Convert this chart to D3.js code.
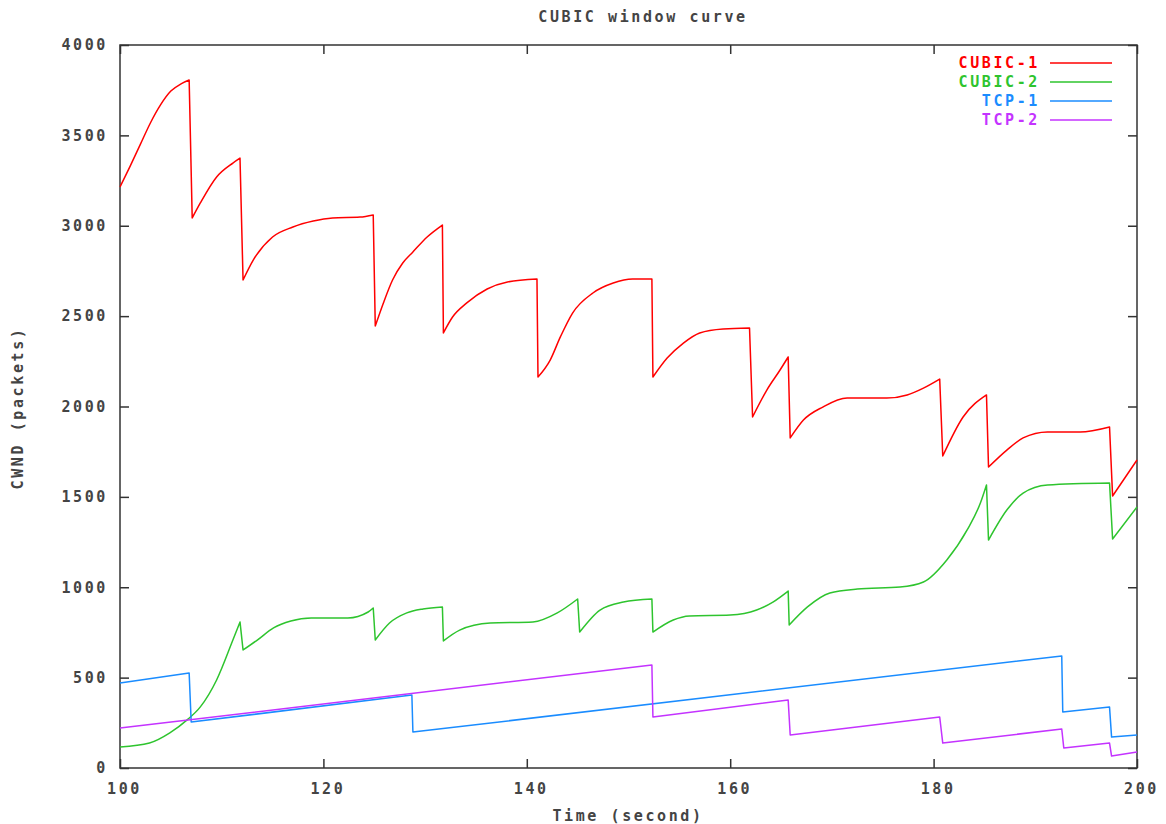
<!DOCTYPE html>
<html>
<head>
<meta charset="utf-8">
<script src="https://cdn.jsdelivr.net/npm/d3@7"></script>
<style>
  body { margin: 0; background: #fff; }
  svg text { font-family: "DejaVu Sans Mono", monospace; font-size: 15px; font-weight: bold; letter-spacing: 2.6px; fill: #444; }
</style>
</head>
<body>
<svg id="drawing_region"></svg>
<script>
// values
const seriesNames = ["CUBIC-1", "CUBIC-2", "TCP-1", "TCP-2"];
const seriesColors = ["#ff0000", "#2ec42e", "#1a8cff", "#c433ff"];
const seriesSmooth = [true, true, false, false];

const cubic1Time = [100, 101.0, 102.0, 103.0, 104.0, 105.0, 106.0, 106.8, 107.1, 107.9, 109.5, 111.1, 111.8, 112.1, 113.1, 115.0, 117.0, 119.0,
    120.9, 123.6, 124.9, 125.1, 125.9, 126.8, 127.8, 128.8, 130.2, 131.7, 131.8, 132.7, 134.1, 136.1, 138.1, 141.0, 141.1,
    142.3, 143.3, 144.5, 146.5, 148.5, 150.4, 152.3, 152.4, 153.8, 155.4, 157.0, 159.3, 161.9, 162.2, 163.6, 164.9, 165.7,
    165.9, 167.2, 169.1, 171.5, 175.4, 177.4, 179.0, 180.6, 180.9, 182.9, 185.2, 185.4, 187.2, 188.8, 191.2, 194.4, 197.3,
    197.6, 200];
const cubic1Cwnd = [3215, 3330, 3450, 3570, 3670, 3745, 3785, 3806, 3043, 3126, 3270, 3347, 3374, 2700, 2810, 2938, 2993, 3026,
    3043, 3048, 3060, 2445, 2573, 2700, 2794, 2855, 2938, 3004, 2407, 2495, 2573, 2650, 2689, 2705, 2163,
    2257, 2385, 2517, 2628, 2683, 2705, 2705, 2163, 2268, 2351, 2407, 2429, 2434, 1942, 2091, 2202, 2274,
    1826, 1925, 1997, 2047, 2047, 2064, 2102, 2152, 1726, 1942, 2064, 1665, 1759, 1826, 1859, 1859, 1887,
    1505, 1704];

const cubic2Time = [100, 102.9, 104.9, 106.6, 107.9, 109.5, 111.1, 111.8, 112.1, 113.5, 115.1, 116.8, 118.8, 122.4, 124.4,
    124.9, 125.1, 126.5, 128.2, 129.8, 131.7, 131.8, 133.4, 136.4, 140.6, 143.0, 145.0, 145.2, 147.2, 149.5,
    152.3, 152.4, 154.4, 156.0, 160.0, 162.6, 164.2, 165.7, 165.8, 167.6, 169.8, 172.5, 176.7, 179.0, 181.3,
    183.3, 184.6, 185.2, 185.4, 187.2, 188.8, 191.2, 197.3, 197.6, 200];
const cubic2Cwnd = [116, 138, 194, 266, 338, 487, 708, 808, 653, 708, 775, 813, 830, 830, 863,
    885, 708, 802, 858, 880, 891, 703, 763, 802, 808, 858, 935, 752, 874, 918,
    935, 752, 819, 841, 846, 874, 918, 979, 791, 891, 968, 990, 1001, 1029, 1151,
    1317, 1466, 1566, 1261, 1427, 1521, 1566, 1577, 1267, 1444];

const tcp1Time = [100, 106.8, 107.0, 128.7, 128.8, 192.6, 192.7, 197.3, 197.5, 200];
const tcp1Cwnd = [470, 525, 254, 404, 199, 620, 310, 337, 171, 182];

const tcp2Time = [100, 152.3, 152.4, 165.7, 165.9, 180.6, 180.9, 192.6, 192.8, 197.3, 197.5, 200];
const tcp2Cwnd = [221, 570, 282, 376, 183, 282, 138, 216, 111, 138, 66, 88];

const xTicks = [100, 120, 140, 160, 180, 200];
const yTicks = [0, 500, 1000, 1500, 2000, 2500, 3000, 3500, 4000];

const config = {
    width: 1166,
    height: 824,
    margin: {top: 45, right: 29, bottom: 56, left: 120}
};

const zip = (ts, ws) => ts.map((t, i) => ({t: t, w: ws[i]}));
const series = [
    zip(cubic1Time, cubic1Cwnd),
    zip(cubic2Time, cubic2Cwnd),
    zip(tcp1Time, tcp1Cwnd),
    zip(tcp2Time, tcp2Cwnd)
];

const svg = d3.select('#drawing_region')
    .attr('width', config.width)
    .attr('height', config.height);

const inner_width = config.width - config.margin.left - config.margin.right;
const inner_height = config.height - config.margin.top - config.margin.bottom;

const chart = svg.append('g')
    .attr('transform', `translate(${config.margin.left}, ${config.margin.top})`);

const xscale = d3.scaleLinear().domain([100, 200]).range([0, inner_width]);
const yscale = d3.scaleLinear().domain([0, 4000]).range([inner_height, 0]);

const tickLen = 9;
const axisColor = "#333";

// bottom and left axes with labels, top and right mirrors without
const xaxis = d3.axisBottom(xscale).tickValues(xTicks).tickFormat(d3.format("d"))
    .tickSizeInner(-tickLen).tickSizeOuter(0).tickPadding(15);
const yaxis = d3.axisLeft(yscale).tickValues(yTicks).tickFormat(d3.format("d"))
    .tickSizeInner(-tickLen).tickSizeOuter(0).tickPadding(12);
const xaxis_top = d3.axisTop(xscale).tickValues(xTicks).tickSizeInner(-tickLen).tickSizeOuter(0).tickFormat("");
const yaxis_right = d3.axisRight(yscale).tickValues(yTicks).tickSizeInner(-tickLen).tickSizeOuter(0).tickFormat("");

const styleAxis = g => {
    g.select('.domain').remove();
    g.selectAll('.tick line').attr('stroke', axisColor).attr('stroke-width', 1.5);
    g.selectAll('.tick text').attr('font-family', null).attr('font-size', null).attr('fill', null);
};

chart.append('g').attr('transform', `translate(0, ${inner_height})`).call(xaxis).call(styleAxis)
    .selectAll('.tick text').attr('dx', 4);
chart.append('g').call(yaxis).call(styleAxis);
chart.append('g').call(xaxis_top).call(styleAxis);
chart.append('g').attr('transform', `translate(${inner_width}, 0)`).call(yaxis_right).call(styleAxis);

chart.append('rect')
    .attr('width', inner_width)
    .attr('height', inner_height)
    .attr('fill', 'none')
    .attr('stroke', axisColor)
    .attr('stroke-width', 1.5);

const smoothLine = d3.line()
    .x(d => xscale(d.t))
    .y(d => yscale(d.w))
    .curve(d3.curveMonotoneX);

const straightLine = d3.line()
    .x(d => xscale(d.t))
    .y(d => yscale(d.w));

// split a series at its window drops so each growth phase is smoothed on its own,
// then join the pieces with straight drop segments
const seriesPath = (data, smooth) => {
    if (!smooth) return straightLine(data);
    const pieces = [[data[0]]];
    for (let i = 1; i < data.length; i++) {
        const prev = data[i - 1], cur = data[i];
        if (cur.t - prev.t < 0.45 && cur.w < prev.w) pieces.push([cur]);
        else pieces[pieces.length - 1].push(cur);
    }
    return pieces.map((p, i) => {
        const d = p.length > 1 ? smoothLine(p) : straightLine(p);
        return i === 0 ? d : 'L' + d.slice(1);
    }).join('');
};

chart.selectAll('path.series')
    .data(series)
    .join('path')
    .attr('class', 'series')
    .attr('fill', 'none')
    .attr('stroke', (d, i) => seriesColors[i])
    .attr('stroke-width', 1.5)
    .attr('stroke-linejoin', 'round')
    .attr('d', (d, i) => seriesPath(d, seriesSmooth[i]));

// legend
const legend = svg.append('g');
seriesNames.forEach((name, i) => {
    const y = 63 + i * 19;
    legend.append('text')
        .attr('x', 1040)
        .attr('y', y + 5)
        .attr('text-anchor', 'end')
        .style('fill', seriesColors[i])
        .text(name);
    legend.append('line')
        .attr('x1', 1050).attr('x2', 1112)
        .attr('y1', y).attr('y2', y)
        .attr('stroke', seriesColors[i])
        .attr('stroke-width', 1.5);
});

// titles
svg.append('text')
    .attr('x', 643)
    .attr('y', 22)
    .attr('text-anchor', 'middle')
    .text('CUBIC window curve');

svg.append('text')
    .attr('x', 628)
    .attr('y', 821)
    .attr('text-anchor', 'middle')
    .text('Time (second)');

svg.append('text')
    .attr('transform', 'translate(23, 408) rotate(-90)')
    .attr('text-anchor', 'middle')
    .text('CWND (packets)');
</script>
</body>
</html>
